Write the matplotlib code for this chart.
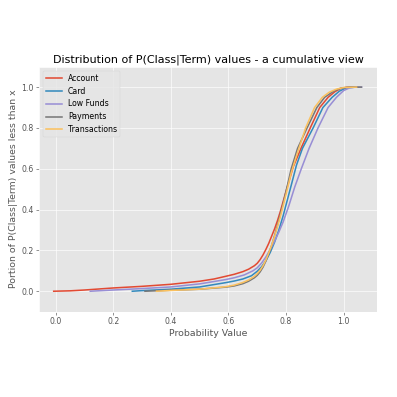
import matplotlib
matplotlib.use("Agg")
import matplotlib.pyplot as plt

plt.style.use("ggplot")

labels = ["Account", "Card", "Low Funds", "Payments", "Transactions"]

account_x = [-0.007, 0.05, 0.1, 0.15, 0.2, 0.3, 0.4, 0.5, 0.55, 0.59, 0.62, 0.65, 0.67, 0.69,
             0.70, 0.71, 0.72, 0.73, 0.74, 0.75, 0.76, 0.77, 0.78, 0.79, 0.80, 0.825, 0.855,
             0.884, 0.917, 0.946, 0.97, 0.99, 1.01, 1.045]
account_y = [0.0, 0.002, 0.006, 0.011, 0.016, 0.024, 0.034, 0.049, 0.060, 0.073, 0.083, 0.096,
             0.108, 0.125, 0.137, 0.155, 0.178, 0.205, 0.235, 0.27, 0.305, 0.345, 0.39, 0.44,
             0.49, 0.61, 0.71, 0.80, 0.90, 0.95, 0.978, 0.993, 0.999, 1.0]

card_x = [0.266, 0.3, 0.4, 0.5, 0.59, 0.62, 0.65, 0.68, 0.70, 0.715, 0.73, 0.745, 0.76, 0.775,
          0.79, 0.805, 0.82, 0.836, 0.857, 0.894, 0.928, 0.96, 0.985, 1.01, 1.045]
card_y = [0.0, 0.003, 0.010, 0.021, 0.042, 0.050, 0.060, 0.076, 0.098, 0.120, 0.150, 0.190,
          0.240, 0.300, 0.370, 0.450, 0.530, 0.617, 0.70, 0.80, 0.90, 0.95, 0.98, 0.997, 1.0]

lowfunds_x = [0.12, 0.2, 0.3, 0.4, 0.5, 0.59, 0.62, 0.655, 0.685, 0.70, 0.715, 0.73, 0.745,
              0.76, 0.775, 0.79, 0.81, 0.83, 0.853, 0.88, 0.911, 0.946, 0.975, 1.0, 1.02,
              1.04, 1.062]
lowfunds_y = [0.0, 0.006, 0.013, 0.021, 0.036, 0.057, 0.066, 0.080, 0.100, 0.115, 0.138,
              0.168, 0.205, 0.245, 0.29, 0.34, 0.42, 0.51, 0.60, 0.70, 0.80, 0.90, 0.95,
              0.983, 0.996, 1.0, 1.0]

payments_x = [0.31, 0.4, 0.5, 0.59, 0.62, 0.65, 0.67, 0.69, 0.70, 0.71, 0.72, 0.73, 0.74,
              0.75, 0.76, 0.77, 0.78, 0.79, 0.80, 0.818, 0.84, 0.873, 0.907, 0.934, 0.965,
              0.99, 1.02, 1.062]
payments_y = [0.0, 0.005, 0.010, 0.020, 0.026, 0.037, 0.049, 0.066, 0.078, 0.095, 0.118,
              0.148, 0.185, 0.225, 0.272, 0.322, 0.375, 0.43, 0.49, 0.60, 0.70, 0.80, 0.90,
              0.95, 0.98, 0.995, 1.0, 1.0]

transactions_x = [0.35, 0.4, 0.5, 0.59, 0.62, 0.65, 0.67, 0.69, 0.70, 0.71, 0.72, 0.73, 0.74,
                  0.75, 0.76, 0.77, 0.78, 0.79, 0.80, 0.818, 0.84, 0.868, 0.899, 0.926, 0.95,
                  0.975, 1.0, 1.045]
transactions_y = [0.0, 0.004, 0.010, 0.022, 0.030, 0.043, 0.055, 0.073, 0.086, 0.103, 0.125,
                  0.153, 0.188, 0.226, 0.268, 0.315, 0.365, 0.42, 0.475, 0.58, 0.68, 0.80,
                  0.90, 0.95, 0.975, 0.99, 0.998, 1.0]

series = [(account_x, account_y), (card_x, card_y), (lowfunds_x, lowfunds_y),
          (payments_x, payments_y), (transactions_x, transactions_y)]

fig = plt.figure(figsize=(7.1, 7.1), dpi=397 / 7.1)
ax = fig.add_axes([0.099, 0.215, 0.85, 0.617])

for (xs, ys), lab in zip(series, labels):
    ax.plot(xs, ys, label=lab, linewidth=2.0)

ax.set_xlim(-0.057, 1.115)
ax.set_ylim(-0.1, 1.1)
ax.set_xticks([0.0, 0.2, 0.4, 0.6, 0.8, 1.0])
ax.set_yticks([0.0, 0.2, 0.4, 0.6, 0.8, 1.0])
ax.set_title("Distribution of P(Class|Term) values - a cumulative view")
ax.set_xlabel("Probability Value")
ax.set_ylabel("Portion of P(Class|Term) values less than x")
ax.legend(loc="upper left")

fig.savefig("out.png", dpi=397 / 7.1)
